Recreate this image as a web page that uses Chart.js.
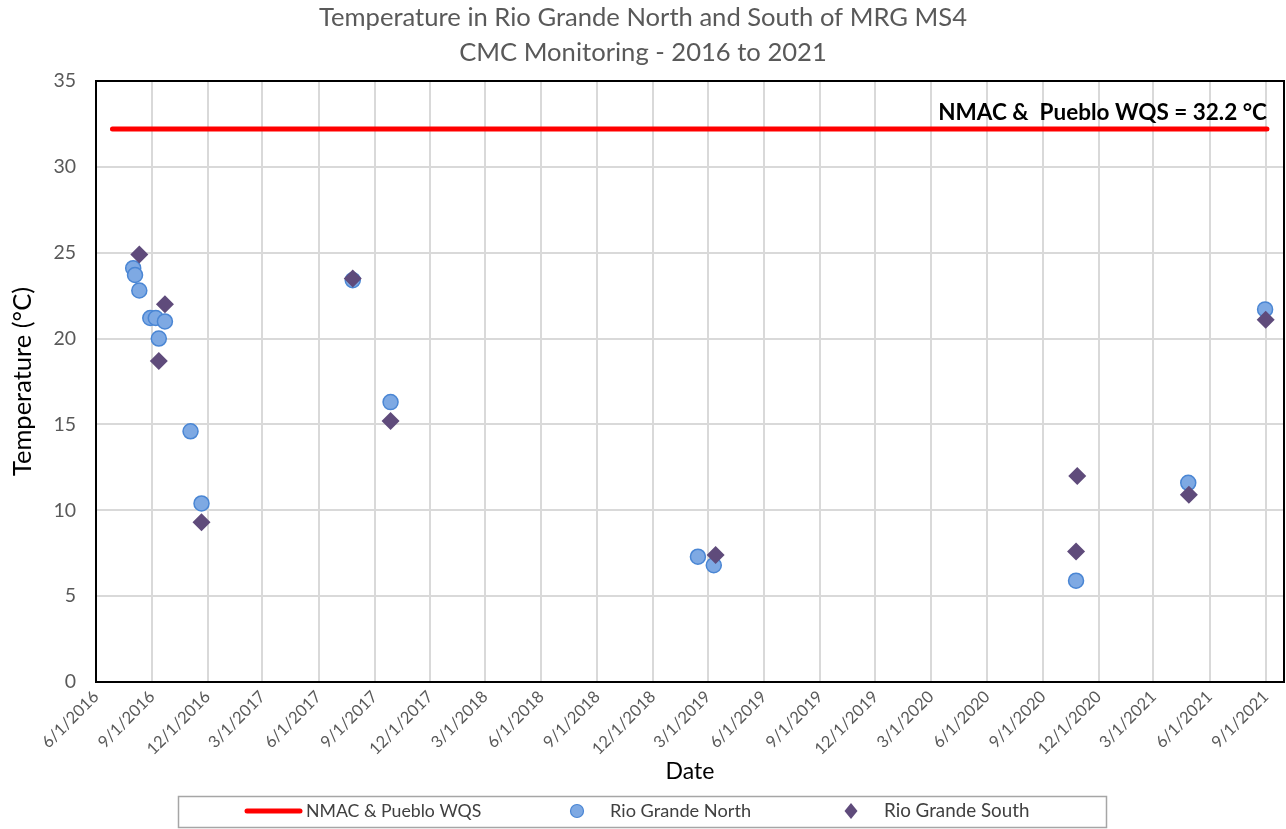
<!DOCTYPE html>
<html>
<head>
<meta charset="utf-8">
<script src="https://cdn.jsdelivr.net/npm/chart.js@4.4.1/dist/chart.umd.min.js"></script>
<style>
  html, body { margin: 0; padding: 0; background: #ffffff; overflow: hidden; }
  #wrap { width: 1286px; height: 829px; overflow: hidden; }
</style>
</head>
<body>
<div id="wrap"><canvas id="c" width="1293" height="829"></canvas></div>
<script>
// ---------- DATA ----------
const titleLines = ['Temperature in Rio Grande North and South of MRG MS4', 'CMC Monitoring - 2016 to 2021'];
const xTickLabels = ['6/1/2016','9/1/2016','12/1/2016','3/1/2017','6/1/2017','9/1/2017','12/1/2017',
  '3/1/2018','6/1/2018','9/1/2018','12/1/2018','3/1/2019','6/1/2019','9/1/2019','12/1/2019',
  '3/1/2020','6/1/2020','9/1/2020','12/1/2020','3/1/2021','6/1/2021','9/1/2021'];
const xAxisMax = '10/1/2021';
const yTicks = [0, 5, 10, 15, 20, 25, 30, 35];

const wqsDates = ['2016-06-28', '2021-09-03'];
const wqsTemps = [32.2, 32.2];

const northDates = ['2016-08-01','2016-08-04','2016-08-11','2016-08-29','2016-09-07','2016-09-12',
  '2016-09-22','2016-11-03','2016-11-21','2017-07-27','2017-09-27','2019-02-13','2019-03-11',
  '2020-10-25','2021-04-27','2021-08-31'];
const northTemps = [24.1, 23.7, 22.8, 21.2, 21.2, 20.0, 21.0, 14.6, 10.4, 23.4, 16.3, 7.3, 6.8, 5.9, 11.6, 21.7];

const southDates = ['2016-08-11','2016-09-12','2016-09-22','2016-11-21','2017-07-27','2017-09-27',
  '2019-03-14','2020-10-25','2020-10-27','2021-04-28','2021-09-01'];
const southTemps = [24.9, 18.7, 22.0, 9.3, 23.5, 15.2, 7.4, 7.6, 12.0, 10.9, 21.1];

const seriesNames = ['NMAC & Pueblo WQS', 'Rio Grande North', 'Rio Grande South'];
const wqsLabel = 'NMAC &  Pueblo WQS = 32.2 °C';

// ---------- HELPERS ----------
function mdy(s) { const [m, d, y] = s.split('/').map(Number); return Date.UTC(y, m - 1, d); }
function iso(s) { const [y, m, d] = s.split('-').map(Number); return Date.UTC(y, m - 1, d); }
const tickValues = xTickLabels.map(mdy);
const labelByValue = {};
tickValues.forEach((v, i) => labelByValue[v] = xTickLabels[i]);
const pts = (dates, vals) => dates.map((d, i) => ({ x: iso(d), y: vals[i] }));

const FONT = 'Lato, "Open Sans", sans-serif';
const GRAY = '#595959';

const frame = {
  id: 'frame',
  afterDatasetsDraw(chart) {
    const { ctx, chartArea: a, scales } = chart;
    ctx.save();
    ctx.strokeStyle = '#000';
    ctx.lineWidth = 2;
    ctx.strokeRect(a.left, a.top, a.right - a.left, a.bottom - a.top);
    // annotation text
    const x = scales.x.getPixelForValue(iso(wqsDates[1]));
    const y = scales.y.getPixelForValue(wqsTemps[1]);
    ctx.fillStyle = '#000';
    ctx.font = 'bold 22.5px ' + FONT;
    ctx.textAlign = 'right';
    ctx.textBaseline = 'alphabetic';
    ctx.fillText(wqsLabel, x, y - 9);
    ctx.restore();
  },
  afterDraw(chart) {
    const { ctx } = chart;
    ctx.save();
    // title (centred on the visible 1286px page)
    ctx.fillStyle = GRAY;
    ctx.font = '25.6px ' + FONT;
    ctx.textAlign = 'center';
    ctx.textBaseline = 'middle';
    ctx.fillText(titleLines[0], 643, 17.5);
    ctx.fillText(titleLines[1], 643, 52.5);
    // legend box
    ctx.strokeStyle = '#a6a6a6';
    ctx.lineWidth = 1.5;
    ctx.strokeRect(178.5, 796.5, 928, 31);
    const cy = 811;
    ctx.fillStyle = '#404040';
    ctx.textBaseline = 'middle';
    ctx.textAlign = 'left';
    // line sample
    ctx.strokeStyle = '#ff0000';
    ctx.lineWidth = 5;
    ctx.lineCap = 'round';
    ctx.beginPath(); ctx.moveTo(247, cy); ctx.lineTo(300, cy); ctx.stroke();
    ctx.font = '17.7px ' + FONT;
    ctx.fillText(seriesNames[0], 306, cy);
    // circle
    ctx.beginPath(); ctx.arc(577, cy, 6.5, 0, Math.PI * 2);
    ctx.fillStyle = '#7ea9e3'; ctx.fill();
    ctx.strokeStyle = '#4a86d4'; ctx.lineWidth = 1.2; ctx.stroke();
    ctx.fillStyle = '#404040';
    ctx.font = '18.2px ' + FONT;
    ctx.fillText(seriesNames[1], 610, cy);
    // diamond
    ctx.beginPath();
    ctx.moveTo(851, cy - 8); ctx.lineTo(857.5, cy); ctx.lineTo(851, cy + 8); ctx.lineTo(844.5, cy); ctx.closePath();
    ctx.fillStyle = '#5f4b7b'; ctx.fill();
    ctx.fillStyle = '#404040';
    ctx.font = '18.8px ' + FONT;
    ctx.fillText(seriesNames[2], 884, cy);
    ctx.restore();
  }
};

new Chart(document.getElementById('c'), {
  type: 'scatter',
  data: {
    datasets: [
      {
        label: seriesNames[0],
        data: pts(wqsDates, wqsTemps),
        showLine: true,
        borderColor: '#ff0000',
        backgroundColor: '#ff0000',
        borderWidth: 5,
        borderCapStyle: 'round',
        pointRadius: 0,
        order: 3
      },
      {
        label: seriesNames[1],
        data: pts(northDates, northTemps),
        pointStyle: 'circle',
        pointRadius: 7.5,
        pointBackgroundColor: '#7ea9e3',
        pointBorderColor: '#4a86d4',
        pointBorderWidth: 1.5,
        order: 2
      },
      {
        label: seriesNames[2],
        data: pts(southDates, southTemps),
        pointStyle: 'rectRot',
        pointRadius: 9,
        pointBackgroundColor: '#5f4b7b',
        pointBorderColor: '#5f4b7b',
        pointBorderWidth: 0,
        order: 1
      }
    ]
  },
  options: {
    responsive: false,
    animation: false,
    layout: { padding: { left: 0, right: 2, top: 81, bottom: 40 } },
    plugins: {
      legend: { display: false },
      tooltip: { enabled: false },
      title: { display: false }
    },
    scales: {
      x: {
        type: 'linear',
        min: mdy(xTickLabels[0]),
        max: mdy(xAxisMax),
        afterBuildTicks(scale) { scale.ticks = tickValues.map(v => ({ value: v })); },
        afterFit(scale) { scale.height = 107; },
        ticks: {
          autoSkip: false,
          maxRotation: 45,
          minRotation: 45,
          color: GRAY,
          padding: 5,
          font: { family: FONT, size: 16.5 },
          callback: (v) => labelByValue[v] || ''
        },
        grid: { color: '#d9d9d9', lineWidth: 2, drawTicks: false },
        border: { display: true, color: '#000', width: 2 },
        title: {
          display: true,
          text: 'Date',
          color: '#000',
          font: { family: FONT, size: 23 },
          padding: { top: 0, bottom: 4 }
        }
      },
      y: {
        min: 0,
        max: 35,
        afterBuildTicks(scale) { scale.ticks = yTicks.map(v => ({ value: v })); },
        afterFit(scale) { scale.width = 96; },
        ticks: {
          color: GRAY,
          padding: 20,
          font: { family: FONT, size: 19.5 }
        },
        grid: { color: '#d9d9d9', lineWidth: 2, drawTicks: false },
        border: { display: true, color: '#000', width: 2 },
        title: {
          display: true,
          text: 'Temperature (°C)',
          color: '#000',
          font: { family: FONT, size: 25.5 },
          padding: { top: 7, bottom: 0 }
        }
      }
    }
  },
  plugins: [frame]
});
</script>
</body>
</html>
